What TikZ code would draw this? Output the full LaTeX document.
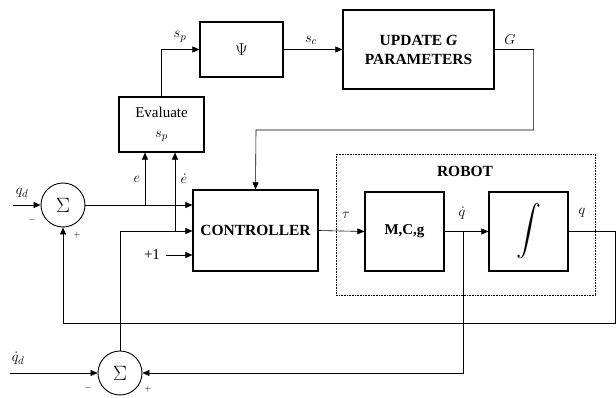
\documentclass[tikz,border=0pt]{standalone}
\usepackage{amsmath}
\usepackage{fontspec}
\setmainfont{Liberation Serif}
\usetikzlibrary{arrows.meta,positioning,calc}

\begin{document}
\begin{tikzpicture}[x=1pt,y=-1pt,font=\fontsize{15}{17}\selectfont]
	\tikzset{blok/.style={draw,line width=1.2pt,inner sep=0pt,align=center},
		summ/.style={draw,circle,line width=0.9pt,minimum size=44pt,inner sep=0pt,font=\fontsize{22}{22}\selectfont},
		pijl/.style={-{Triangle[length=7pt,width=6pt]}},
		lijn/.style={line width=0.6pt}}
	\useasboundingbox (0,0) rectangle (616,398);
	% blocks
	\node[summ] (som1) at (63,205) {$\Sigma$};
	\node[summ] (som2) at (120,373) {$\Sigma$};
	\node[blok,minimum width=85pt,minimum height=55pt] (eval) at (161.5,124.5) {Evaluate\\[3pt] $s_p$};
	\node[blok,minimum width=83pt,minimum height=55pt,font=\fontsize{19}{19}\selectfont] (psi) at (241.5,49.5) {$\Psi$};
	\node[blok,minimum width=151pt,minimum height=79pt,font=\fontsize{15.5}{19}\selectfont\bfseries] (upd) at (418.5,49.5) {UPDATE \textit{G}\\PARAMETERS};
	\node[blok,minimum width=125pt,minimum height=81pt,font=\fontsize{15.5}{17}\selectfont\bfseries] (ctrl) at (255.5,230.5) {CONTROLLER};
	\node[blok,minimum width=79pt,minimum height=79pt,font=\fontsize{15}{17}\selectfont\bfseries] (mcg) at (404.5,231.5) {M,C,g};
	\node[blok,minimum width=79pt,minimum height=79pt,font=\fontsize{26}{26}\selectfont] (intg) at (528.5,231.5) {$\displaystyle\int$};
	% robot frame
	\draw[densely dotted,line width=0.6pt] (336,154) rectangle (595,295);
	\node[font=\fontsize{15.5}{17}\selectfont\bfseries] (robot) at (465,171) {ROBOT};
	% signals
	\coordinate (qdin) at (13,205);
	\coordinate (qddin) at (10,373);
	\coordinate (ej) at (145,205);
	\coordinate (edj) at (175,231);
	\coordinate (qdj) at (463,231.5);
	\draw[lijn,pijl] (qdin) -- (som1.west);
	\draw[lijn,pijl] (qddin) -- (som2.west);
	\draw[lijn,pijl] (som1.east) -- (ctrl.west |- som1);
	\draw[lijn,pijl] (ej) -- (ej |- eval.south);
	\draw[lijn,pijl] (som2.north) |- (ctrl.west |- edj);
	\draw[lijn,pijl] (edj) -- (edj |- eval.south);
	\node (plus1) at (152,255) {+1};
	\draw[lijn,pijl] (plus1.east) ++(2,0) -- (ctrl.west |- plus1);
	\draw[lijn,pijl] (eval.north) |- (psi.west);
	\draw[lijn,pijl] (psi.east) -- (upd.west);
	\draw[lijn,pijl] (upd.east) -- ++(39,0) |- (256,130) -- (ctrl.north);
	\draw[lijn,pijl] (ctrl.east) -- (mcg.west);
	\draw[lijn,pijl] (mcg.east) -- (intg.west);
	\draw[lijn,pijl] (qdj) |- (som2.east);
	\draw[lijn,pijl] (intg.east) -| (615,323) -| (som1.south);
	% labels
	\node at (22,193) {$q_d$};
	\node at (18,358) {$\dot{q}_d$};
	\node at (137,179) {$e$};
	\node at (184,179) {$\dot{e}$};
	\node at (180,37) {$s_p$};
	\node at (311,40) {$s_c$};
	\node at (510,40) {$G$};
	\node at (346,215) {$\tau$};
	\node at (462,213) {$\dot{q}$};
	\node at (582,213) {$q$};
	\node at (32,220) {\small$-$};
	\node at (77,235) {\small$+$};
	\node at (88,388) {\small$-$};
	\node at (148,389) {\small$+$};
\end{tikzpicture}
\end{document}
